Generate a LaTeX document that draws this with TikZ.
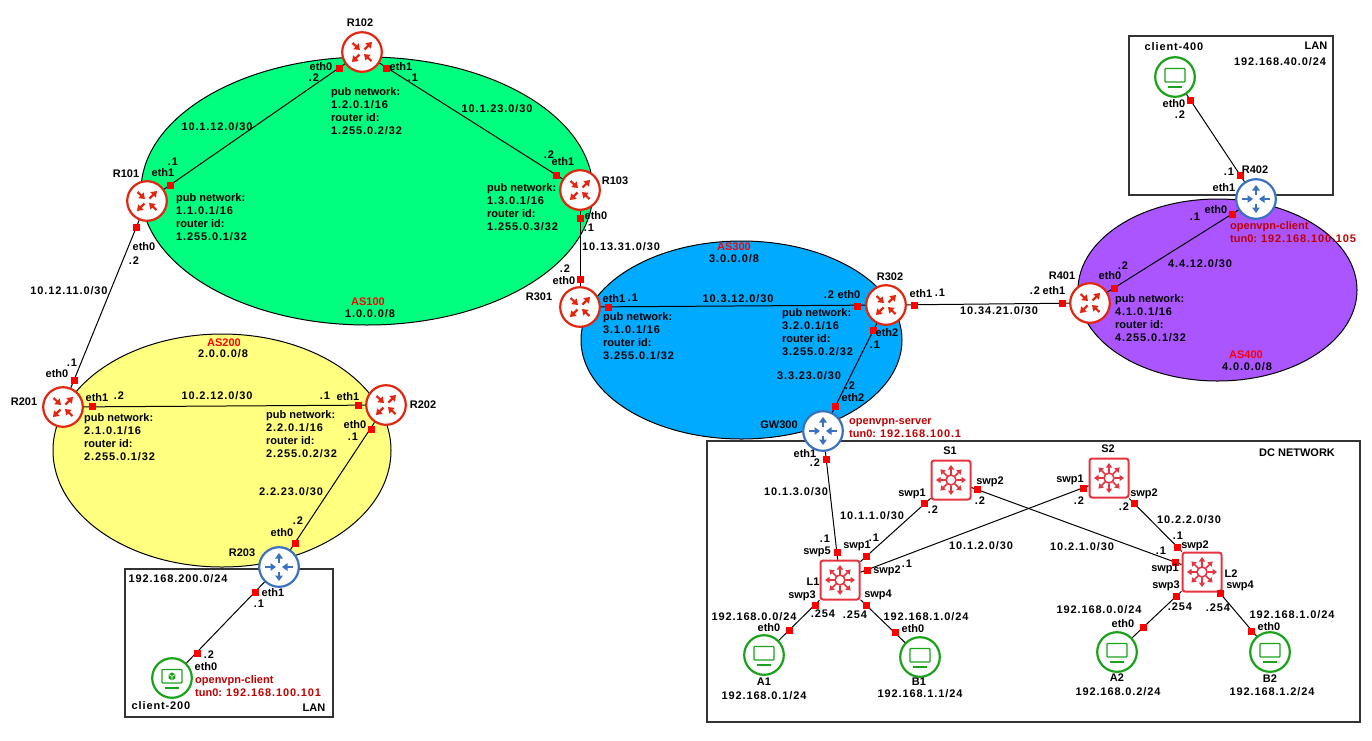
\documentclass[tikz,border=0pt]{standalone}
\usepackage{fontspec}
\setmainfont{Liberation Sans}
\newfontfamily\numfont[LetterSpace=8]{Liberation Sans}
\usetikzlibrary{arrows.meta,positioning,shapes.geometric}
\definecolor{rtrred}{HTML}{E3260F}
\definecolor{gwblue}{HTML}{3B72BE}
\definecolor{swred}{HTML}{E5343F}
\definecolor{hostgreen}{HTML}{1BA21B}
\definecolor{tunred}{HTML}{C00000}
\definecolor{as100}{HTML}{00FF7F}
\definecolor{as200}{HTML}{FFFF80}
\definecolor{as300}{HTML}{00AAFF}
\definecolor{as400}{HTML}{AA55FF}

\begin{document}
\begin{tikzpicture}
    [x = 1pt, y = -1pt, on grid, >= {Stealth[inset=0pt,length=5.5pt,width=7.5pt]},
    font = \bfseries\fontsize{11}{13}\selectfont,
    asarea/.style = {ellipse,draw=black,line width=1pt,inner sep=0pt},
    netbox/.style = {rectangle,draw=black!80,line width=1.2pt,inner sep=0pt},
    port/.style = {rectangle,fill=red,minimum size=7pt,inner sep=0pt},
    lbl/.style = {inner sep=0pt},
    num/.style = {inner sep=0pt,font=\bfseries\fontsize{11}{13}\numfont},
    info/.style = {inner sep=0pt,align=left,anchor=west},
    asname/.style = {inner sep=0pt,text=red},
    tun/.style = {inner sep=0pt,text=tunred,align=left,anchor=west},
    rtr/.style = {circle,draw=rtrred,fill=white,line width=2.2pt,minimum size=39.6pt,inner sep=0pt,
        path picture = {\begin{scope}[shift={(path picture bounding box.center)},line width=2.2pt,rtrred]
            \draw[->] (-9.5,-9) -- (-2,-2);
            \draw[->] (2.5,-2.5) -- (10,-10);
            \draw[->] (-2.5,2.5) -- (-10,10);
            \draw[->] (9.5,9) -- (2,2);
        \end{scope}}},
    gw/.style = {circle,draw=gwblue,fill=white,line width=2.2pt,minimum size=39.6pt,inner sep=0pt,
        path picture = {\begin{scope}[shift={(path picture bounding box.center)},line width=2pt,gwblue]
            \draw[->] (0,-4.5) -- (0,-14);
            \draw[->] (0,4.5) -- (0,14);
            \draw[->] (-14,0) -- (-3,0);
            \draw[->] (14,0) -- (3,0);
        \end{scope}}},
    sw/.style = {rectangle,rounded corners=2.5pt,draw=swred,fill=white,line width=2pt,minimum size=39pt,inner sep=0pt,
        path picture = {\begin{scope}[shift={(path picture bounding box.center)},line width=1.6pt,swred,
                >={Stealth[inset=0pt,length=4.5pt,width=6pt]}]
            \draw (0,0) circle (5pt);
            \foreach \ang in {0,45,...,315}
                \draw[->] (\ang:5.5) -- (\ang:15);
        \end{scope}}},
    host/.style = {circle,draw=hostgreen,fill=white,line width=2.2pt,minimum size=39.6pt,inner sep=0pt,
        path picture = {\begin{scope}[shift={(path picture bounding box.center)},line width=1.2pt,hostgreen]
            \draw[rounded corners=0.8pt] (-10,-8.5) rectangle (10,5);
            \draw (-7,10) -- (7,10);
        \end{scope}}},
    vpnhost/.style = {circle,draw=hostgreen,fill=white,line width=2.2pt,minimum size=39.6pt,inner sep=0pt,
        path picture = {\begin{scope}[shift={(path picture bounding box.center)},line width=1.2pt,hostgreen]
            \draw[rounded corners=0.8pt] (-10,-8.5) rectangle (10,5);
            \draw (-7,10) -- (7,10);
            \fill (0,-5.6) -- (3.4,-3.6) -- (3.4,0.4) -- (0,2.4) -- (-3.4,0.4) -- (-3.4,-3.6) -- cycle;
            \draw[white,line width=0.6pt] (-3.4,-3.6) -- (0,-1.6) -- (3.4,-3.6) (0,-1.6) -- (0,2.4);
        \end{scope}}}]
\useasboundingbox (0,0) rectangle (1372,740);

% AS areas
\node[asarea,fill=as100,minimum width=452pt,minimum height=268pt](AS100) at (367,191){};
\node[asarea,fill=as200,minimum width=338pt,minimum height=233pt](AS200) at (222,450.5){};
\node[asarea,fill=as300,minimum width=321pt,minimum height=198pt](AS300) at (741.5,340){};
\node[asarea,fill=as400,minimum width=279pt,minimum height=182pt](AS400) at (1217.5,290){};

% networks
\node[netbox,minimum width=208pt,minimum height=148pt](LAN200) at (229,643){};
\node[netbox,minimum width=204pt,minimum height=159pt](LAN400) at (1231,115.5){};
\node[netbox,minimum width=653pt,minimum height=281pt](DC) at (1033.5,581.5){};

% devices
\node[rtr](R102) at (362,52){};
\node[rtr](R101)[below left = 149pt and 215pt of R102]{};
\node[rtr](R103)[below right = 138pt and 218pt of R102]{};
\node[rtr](R201)[below left = 206pt and 84pt of R101]{};
\node[rtr](R202)[above right = 2pt and 323pt of R201]{};
\node[gw](R203)[below left = 162pt and 107pt of R202]{};
\node[vpnhost](client200)[below left = 111pt and 107pt of R203]{};
\node[rtr](R301)[below = 117pt of R103]{};
\node[rtr](R302)[above right = 2pt and 306pt of R301]{};
\node[gw](GW300)[below left = 126pt and 63pt of R302]{};
\node[rtr](R401)[above right = 2pt and 204pt of R302]{};
\node[gw](R402)[above right = 104pt and 166pt of R401]{};
\node[host](client400)[above left = 122pt and 81pt of R402]{};
\node[sw](L1)[below right = 149pt and 17pt of GW300]{};
\node[sw](S1)[above right = 100pt and 111pt of L1]{};
\node[sw](S2)[above right = 2pt and 158pt of S1]{};
\node[sw](L2)[below right = 94pt and 93pt of S2]{};
\node[host](A1)[below left = 75pt and 76pt of L1]{};
\node[host](B1)[below right = 77pt and 80pt of L1]{};
\node[host](A2)[below left = 80pt and 85pt of L2]{};
\node[host](B2)[below right = 80pt and 68pt of L2]{};

\path[draw,line width=1pt]
    (R101) edge (R102)
    (R102) edge (R103)
    (R101) edge (R201)
    (R201) edge (R202)
    (R202) edge (R203)
    (R203) edge (client200)
    (R103) edge (R301)
    (R301) edge (R302)
    (R302) edge (R401)
    (R302) edge (GW300)
    (R401) edge (R402)
    (R402) edge (client400)
    (GW300) edge (L1)
    (L1) edge (S1)
    (L1) edge (S2)
    (S1) edge (L2)
    (S2) edge (L2)
    (L1) edge (A1)
    (L1) edge (B1)
    (L2) edge (A2)
    (L2) edge (B2);

% interfaces
\node[port](R102e0) at (339,68){};
\node[port](R102e1) at (386,68){};
\node[port](R101e1) at (170,185){};
\node[port](R101e0) at (136,227){};
\node[port](R103e1) at (556,175){};
\node[port](R103e0) at (580,218){};
\node[port](R201e0) at (74,380){};
\node[port](R201e1) at (92,406){};
\node[port](R202e1) at (358,405){};
\node[port](R202e0) at (371,429){};
\node[port](R203e0) at (295,543){};
\node[port](R203e1) at (255,592){};
\node[port](c200e0) at (197,653){};
\node[port](R301e0) at (580,279){};
\node[port](R301e1) at (608,307){};
\node[port](R302e0) at (857,306){};
\node[port](R302e2) at (873,330){};
\node[port](R302e1) at (914,305){};
\node[port](GWe2) at (835,406){};
\node[port](GWe1) at (826,459){};
\node[port](R401e1) at (1062,303){};
\node[port](R401e0) at (1114,288){};
\node[port](R402e0) at (1232,214){};
\node[port](R402e1) at (1240,175){};
\node[port](c400e0) at (1190,100){};
\node[port](S1s1) at (924,503){};
\node[port](S1s2) at (977,489){};
\node[port](S2s1) at (1083,488){};
\node[port](S2s2) at (1134,503){};
\node[port](L1s5) at (837,552){};
\node[port](L1s1) at (866,556){};
\node[port](L1s2) at (867,570){};
\node[port](L1s3) at (815,605){};
\node[port](L1s4) at (866,605){};
\node[port](L2s2) at (1177,547){};
\node[port](L2s1) at (1175,562){};
\node[port](L2s3) at (1176,596){};
\node[port](L2s4) at (1220,593){};
\node[port](A1e0) at (789,630){};
\node[port](B1e0) at (895,632){};
\node[port](A2e0) at (1143,627){};
\node[port](B2e0) at (1251,631){};

% AS 100
\node[lbl](R102n) at (360,23){R102};
\node[lbl](R101n) at (126,174){R101};
\node[lbl](R103n) at (615,181){R103};
\node[lbl](R102e0t) at (321,67){eth0};
\node[num](R102e0ip) at (314,78){.2};
\node[lbl](R102e1t) at (401,67){eth1};
\node[num](R102e1ip) at (413,78){.1};
\node[num](R101e1ip) at (173,162){.1};
\node[lbl](R101e1t) at (163,173){eth1};
\node[lbl](R101e0t) at (144,247){eth0};
\node[num](R101e0ip) at (134,261){.2};
\node[num](R103e1ip) at (549,155){.2};
\node[lbl](R103e1t) at (563,162){eth1};
\node[lbl](R103e0t) at (596,216){eth0};
\node[num](R103e0ip) at (589,228){.1};
\node[num](net1012) at (217,127){10.1.12.0/30};
\node[num](net1023) at (497,109){10.1.23.0/30};
\node[num](net1211) at (69,291){10.12.11.0/30};
\node[num](net1331) at (621,247){10.13.31.0/30};
\node[info](R102i) at (331,111){pub network:\\{\numfont 1.2.0.1/16}\\router id:\\{\numfont 1.255.0.2/32}};
\node[info](R101i) at (176,217){pub network:\\{\numfont 1.1.0.1/16}\\router id:\\{\numfont 1.255.0.1/32}};
\node[info](R103i) at (487,207){pub network:\\{\numfont 1.3.0.1/16}\\router id:\\{\numfont 1.255.0.3/32}};
\node[asname](AS100n) at (368,302){AS100};
\node[num](AS100p) at (370,314){1.0.0.0/8};

% AS 200
\node[asname](AS200n) at (224,343){AS200};
\node[num](AS200p) at (223,354){2.0.0.0/8};
\node[lbl](R201n) at (24,402){R201};
\node[lbl](R202n) at (423,405){R202};
\node[lbl](R203n) at (242,553){R203};
\node[num](R201e0ip) at (72,363){.1};
\node[lbl](R201e0t) at (57,374){eth0};
\node[lbl](R201e1t) at (97,398){eth1};
\node[num](R201e1ip) at (119,396){.2};
\node[num](R202e1ip) at (325,396){.1};
\node[lbl](R202e1t) at (348,397){eth1};
\node[lbl](R202e0t) at (355,425){eth0};
\node[num](R202e0ip) at (353,437){.1};
\node[num](R203e0ip) at (298,521){.2};
\node[lbl](R203e0t) at (282,533){eth0};
\node[lbl](R203e1t) at (273,593){eth1};
\node[num](R203e1ip) at (259,604){.1};
\node[num](net1212) at (217,396){10.2.12.0/30};
\node[num](net2223) at (291,492){2.2.23.0/30};
\node[info](R201i) at (84,437){pub network:\\{\numfont 2.1.0.1/16}\\router id:\\{\numfont 2.255.0.1/32}};
\node[info](R202i) at (266,434){pub network:\\{\numfont 2.2.0.1/16}\\router id:\\{\numfont 2.255.0.2/32}};
\node[num](LAN200p) at (178,579){192.168.200.0/24};
\node[num](c200e0ip) at (209,655){.2};
\node[lbl](c200e0t) at (206,667){eth0};
\node[tun](c200t) at (195,686){openvpn-client\\tun0: {\numfont 192.168.100.101}};
\node[num](c200n) at (161,706){client-200};
\node[lbl](LAN200n) at (314,708){LAN};

% AS 300
\node[asname](AS300n) at (734,247){AS300};
\node[num](AS300p) at (734,259){3.0.0.0/8};
\node[lbl](R301n) at (539,297){R301};
\node[lbl](R302n) at (890,277){R302};
\node[lbl](GW300n) at (779,425){GW300};
\node[num](R301e0ip) at (565,269){.2};
\node[lbl](R301e0t) at (564,281){eth0};
\node[lbl](R301e1t) at (614,299){eth1};
\node[num](R301e1ip) at (633,298){.1};
\node[num](R302e0ip) at (829,295){.2};
\node[lbl](R302e0t) at (849,295){eth0};
\node[lbl](R302e1t) at (921,294){eth1};
\node[num](R302e1ip) at (940,293){.1};
\node[lbl](R302e2t) at (887,333){eth2};
\node[num](R302e2ip) at (875,345){.1};
\node[num](GWe2ip) at (850,386){.2};
\node[lbl](GWe2t) at (853,398){eth2};
\node[lbl](GWe1t) at (805,454){eth1};
\node[num](GWe1ip) at (815,463){.2};
\node[num](net3312) at (738,299){10.3.12.0/30};
\node[num](net3323) at (809,376){3.3.23.0/30};
\node[num](net3421) at (999,311){10.34.21.0/30};
\node[info](R301i) at (603,336){pub network:\\{\numfont 3.1.0.1/16}\\router id:\\{\numfont 3.255.0.1/32}};
\node[info](R302i) at (782,332){pub network:\\{\numfont 3.2.0.1/16}\\router id:\\{\numfont 3.255.0.2/32}};
\node[tun](GWt) at (849,428){openvpn-server\\tun0: {\numfont 192.168.100.1}};

% AS 400
\node[asname](AS400n) at (1246,355){AS400};
\node[num](AS400p) at (1247,367){4.0.0.0/8};
\node[lbl](R401n) at (1062,276){R401};
\node[lbl](R402n) at (1255,170){R402};
\node[num](R401e1ip) at (1035,291){.2};
\node[lbl](R401e1t) at (1054,291){eth1};
\node[num](R401e0ip) at (1123,266){.2};
\node[lbl](R401e0t) at (1110,276){eth0};
\node[lbl](R402e0t) at (1216,210){eth0};
\node[num](R402e0ip) at (1195,217){.1};
\node[num](R402e1ip) at (1229,172){.1};
\node[lbl](R402e1t) at (1224,188){eth1};
\node[num](net4412) at (1200,264){4.4.12.0/30};
\node[info](R401i) at (1115,318){pub network:\\{\numfont 4.1.0.1/16}\\router id:\\{\numfont 4.255.0.1/32}};
\node[tun](R402t) at (1230,232){openvpn-client\\tun0: {\numfont 192.168.100.105}};
\node[num](c400n) at (1174,47){client-400};
\node[lbl](LAN400n) at (1316,46){LAN};
\node[num](LAN400p) at (1280,62){192.168.40.0/24};
\node[lbl](c400e0t) at (1174,104){eth0};
\node[num](c400e0ip) at (1180,115){.2};

% DC
\node[lbl](DCn) at (1297,453){DC NETWORK};
\node[lbl](S1n) at (950,451){S1};
\node[lbl](S2n) at (1108,449){S2};
\node[lbl](L1n) at (813,582){L1};
\node[lbl](L2n) at (1231,574){L2};
\node[lbl](S1s1t) at (912,494){swp1};
\node[num](S1s1ip) at (933,510){.2};
\node[lbl](S1s2t) at (990,482){swp2};
\node[num](S1s2ip) at (980,501){.2};
\node[lbl](S2s1t) at (1070,480){swp1};
\node[num](S2s1ip) at (1079,501){.2};
\node[lbl](S2s2t) at (1144,494){swp2};
\node[num](S2s2ip) at (1124,507){.2};
\node[num](L1s5ip) at (825,539){.1};
\node[lbl](L1s5t) at (817,552){swp5};
\node[num](L1s1ip) at (874,538){.1};
\node[lbl](L1s1t) at (857,546){swp1};
\node[lbl](L1s2t) at (887,571){swp2};
\node[num](L1s2ip) at (907,564){.1};
\node[lbl](L1s3t) at (802,596){swp3};
\node[lbl](L1s4t) at (878,595){swp4};
\node[num](L1s3ip) at (823,614){.254};
\node[num](L1s4ip) at (855,615){.254};
\node[num](L2s2ip) at (1178,536){.1};
\node[lbl](L2s2t) at (1195,546){swp2};
\node[num](L2s1ip) at (1161,551){.1};
\node[lbl](L2s1t) at (1165,569){swp1};
\node[lbl](L2s3t) at (1166,586){swp3};
\node[lbl](L2s4t) at (1240,586){swp4};
\node[num](L2s3ip) at (1180,607){.254};
\node[num](L2s4ip) at (1218,608){.254};
\node[num](net1013) at (796,492){10.1.3.0/30};
\node[num](net1011) at (872,516){10.1.1.0/30};
\node[num](net1012b) at (981,546){10.1.2.0/30};
\node[num](net1021) at (1082,547){10.2.1.0/30};
\node[num](net1022) at (1189,520){10.2.2.0/30};
\node[num](A1p) at (754,617){192.168.0.0/24};
\node[num](B1p) at (926,617){192.168.1.0/24};
\node[num](A2p) at (1099,610){192.168.0.0/24};
\node[num](B2p) at (1292,615){192.168.1.0/24};
\node[lbl](A1e0t) at (769,628){eth0};
\node[lbl](B1e0t) at (913,629){eth0};
\node[lbl](A2e0t) at (1123,624){eth0};
\node[lbl](B2e0t) at (1269,627){eth0};
\node[lbl](A1n) at (764,682){A1};
\node[num](A1ip) at (764,696){192.168.0.1/24};
\node[lbl](B1n) at (919,682){B1};
\node[num](B1ip) at (920,694){192.168.1.1/24};
\node[lbl](A2n) at (1117,678){A2};
\node[num](A2ip) at (1118,692){192.168.0.2/24};
\node[lbl](B2n) at (1270,679){B2};
\node[num](B2ip) at (1272,692){192.168.1.2/24};
\end{tikzpicture}
\end{document}
